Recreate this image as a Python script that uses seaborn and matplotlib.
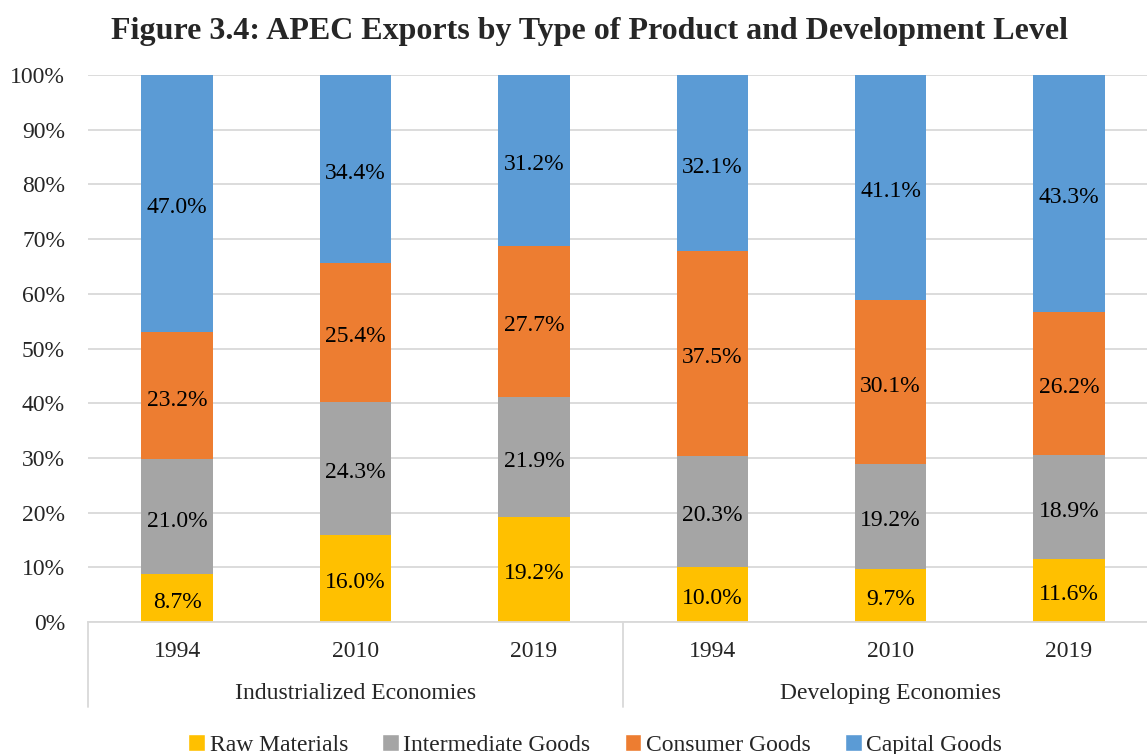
import numpy as np
import pandas as pd
import matplotlib
matplotlib.use("Agg")
import matplotlib.pyplot as plt
import seaborn as sns
from matplotlib.patches import Patch

# data (percent shares)
groups = ["Industrialized Economies"] * 3 + ["Developing Economies"] * 3
years = ["1994", "2010", "2019", "1994", "2010", "2019"]
raw_materials = [8.7, 16.0, 19.2, 10.0, 9.7, 11.6]
intermediate_goods = [21.0, 24.3, 21.9, 20.3, 19.2, 18.9]
consumer_goods = [23.2, 25.4, 27.7, 37.5, 30.1, 26.2]
capital_goods = [47.0, 34.4, 31.2, 32.1, 41.1, 43.3]

series = ["Raw Materials", "Intermediate Goods", "Consumer Goods", "Capital Goods"]
colors = {"Raw Materials": "#FFC000", "Intermediate Goods": "#A5A5A5",
          "Consumer Goods": "#ED7D31", "Capital Goods": "#5B9BD5"}

sns.set_style("white")
plt.rcParams['font.family'] = ['Liberation Serif', 'DejaVu Serif']
FS = 17

df = pd.DataFrame({
    "Group": groups,
    "Year": years,
    "Raw Materials": raw_materials,
    "Intermediate Goods": intermediate_goods,
    "Consumer Goods": consumer_goods,
    "Capital Goods": capital_goods,
})
df["key"] = [f"{g}|{y}" for g, y in zip(groups, years)]
order = list(df["key"])

# 100% stacked: normalise each column to its total
tot = df[series].sum(axis=1)
shares = df[series].div(tot, axis=0) * 100
cum = shares.cumsum(axis=1)

fig = plt.figure(figsize=(11.47, 7.54), dpi=100)
ax = fig.add_axes([0.0767, 0.175, 0.933, 0.7255])

# draw the cumulative bars back to front so each layer shows its own segment
for s in reversed(series):
    sns.barplot(x=df["key"], y=cum[s], order=order, color=colors[s],
                width=0.40, ax=ax, saturation=1, linewidth=0, zorder=2)

for i in range(len(df)):
    for s in series:
        mid = cum.loc[i, s] - shares.loc[i, s] / 2
        ax.annotate(f"{df.loc[i, s]:.1f}%", (i, mid), xytext=(0, -3),
                    textcoords='offset points', ha='center', va='center',
                    fontsize=FS, color='black', zorder=5)

ax.set_ylim(0, 100)
ax.set_xlim(-0.5, 5.5)
ax.set_yticks(np.arange(0, 101, 10))
ax.set_yticklabels([f"{v}%" for v in range(0, 101, 10)], fontsize=FS)
ax.tick_params(axis='y', length=0, pad=16.5)
ax.tick_params(axis='x', length=0, pad=14)
ax.set_xticks(range(len(years)))
ax.set_xticklabels(years, fontsize=FS)
ax.set_xlabel("")
ax.set_ylabel("")
ax.yaxis.grid(True, color='#D9D9D9', linewidth=1.3, zorder=0)
ax.set_axisbelow(True)
for side in ['top', 'right', 'left']:
    ax.spines[side].set_visible(False)
ax.spines['bottom'].set_color('#D9D9D9')
ax.spines['bottom'].set_linewidth(1.3)

# second level of the category axis
trans = ax.get_xaxis_transform()
for xb in [-0.5, 2.5, 5.5]:
    ax.plot([xb, xb], [0, -0.156], transform=trans, color='#D9D9D9',
            linewidth=1.3, clip_on=False)
for name, xc in [("Industrialized Economies", 1), ("Developing Economies", 4)]:
    ax.text(xc, -0.130, name, transform=trans, ha='center', va='center',
            fontsize=FS)

fig.suptitle("Figure 3.4: APEC Exports by Type of Product and Development Level",
             x=0.514, y=0.977, fontsize=23, fontweight='bold')

handles = [Patch(facecolor=colors[s], label=s) for s in series]
fig.legend(handles=handles, loc='center', bbox_to_anchor=(0.519, 0.012),
           ncol=4, frameon=False, fontsize=FS, handlelength=0.7,
           handleheight=0.7, handletextpad=0.2, columnspacing=1.45)

fig.savefig("out.png", dpi=100)
